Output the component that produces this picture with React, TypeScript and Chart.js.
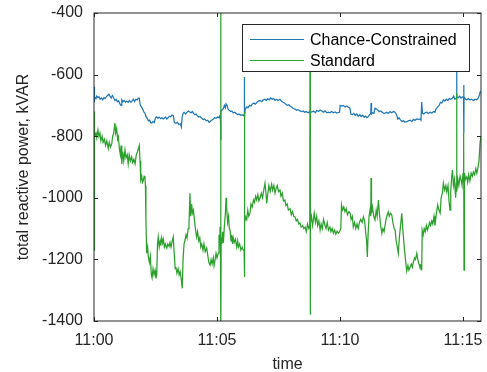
import React, { useEffect, useRef } from "react";
import { Chart, registerables } from "chart.js";
Chart.register(...registerables);

// minutes after 11:00
const ccTime = [0.00,0.01,0.03,0.08,0.11,0.16,0.20,0.25,0.30,0.35,0.40,0.45,0.50,0.55,0.60,0.65,0.70,0.75,0.80,0.85,0.90,0.95,1.00,1.05,1.10,1.13,1.18,1.23,1.28,1.33,1.39,1.44,1.50,1.55,1.60,1.65,1.70,1.76,1.80,1.84,1.88,1.93,1.98,2.03,2.07,2.11,2.16,2.21,2.26,2.31,2.35,2.40,2.45,2.50,2.55,2.60,2.65,2.71,2.76,2.81,2.86,2.91,2.96,3.01,3.07,3.12,3.17,3.22,3.27,3.33,3.39,3.45,3.51,3.55,3.58,3.62,3.66,3.72,3.78,3.84,3.90,3.95,4.00,4.05,4.10,4.15,4.20,4.26,4.32,4.38,4.44,4.50,4.56,4.62,4.68,4.72,4.78,4.84,4.90,4.96,5.02,5.07,5.10,5.14,5.15,5.16,5.20,5.26,5.30,5.34,5.37,5.41,5.45,5.50,5.55,5.60,5.66,5.72,5.78,5.84,5.90,5.96,6.02,6.07,6.10,6.11,6.12,6.15,6.21,6.26,6.32,6.38,6.44,6.50,6.56,6.62,6.68,6.75,6.82,6.88,6.95,7.00,7.06,7.12,7.18,7.24,7.30,7.36,7.42,7.48,7.56,7.62,7.68,7.74,7.80,7.86,7.92,7.97,8.04,8.10,8.17,8.24,8.30,8.37,8.44,8.50,8.56,8.62,8.70,8.78,8.85,8.92,9.00,9.05,9.12,9.19,9.26,9.33,9.39,9.46,9.53,9.59,9.66,9.73,9.80,9.87,9.93,9.98,10.01,10.07,10.13,10.20,10.27,10.34,10.40,10.44,10.50,10.56,10.62,10.68,10.74,10.80,10.86,10.92,10.98,11.04,11.09,11.14,11.20,11.25,11.26,11.28,11.33,11.38,11.42,11.48,11.54,11.60,11.66,11.72,11.78,11.83,11.90,11.96,12.03,12.10,12.17,12.24,12.30,12.35,12.40,12.46,12.52,12.58,12.64,12.71,12.78,12.85,12.92,12.98,13.05,13.12,13.20,13.25,13.29,13.32,13.35,13.40,13.46,13.52,13.59,13.66,13.73,13.80,13.86,13.90,13.97,14.03,14.08,14.14,14.20,14.26,14.32,14.38,14.44,14.50,14.57,14.62,14.67,14.73,14.74,14.75,14.81,14.86,14.92,14.98,15.02,15.03,15.035,15.04,15.10,15.15,15.21,15.28,15.35,15.42,15.49,15.56,15.62,15.67,15.70,15.73];
const ccPower = [-640,-690,-672,-678,-670,-675,-672,-680,-676,-682,-675,-678,-672,-668,-664,-670,-676,-668,-676,-684,-680,-688,-685,-695,-700,-682,-688,-684,-690,-686,-690,-684,-690,-685,-680,-688,-680,-682,-676,-676,-699,-705,-712,-722,-725,-735,-742,-750,-748,-756,-757,-752,-756,-740,-737,-742,-738,-743,-740,-744,-741,-738,-744,-740,-735,-737,-731,-733,-756,-758,-755,-762,-760,-770,-740,-726,-722,-728,-722,-718,-722,-724,-720,-726,-730,-728,-734,-738,-736,-742,-746,-744,-750,-748,-755,-753,-748,-745,-740,-742,-738,-740,-735,-745,-812,-720,-715,-710,-700,-708,-695,-700,-712,-716,-720,-718,-724,-722,-726,-730,-728,-732,-730,-733,-731,-608,-735,-712,-705,-708,-700,-702,-695,-692,-696,-690,-686,-684,-688,-682,-680,-684,-678,-682,-676,-680,-678,-684,-680,-684,-680,-686,-690,-692,-696,-700,-698,-702,-706,-710,-712,-716,-714,-718,-720,-718,-722,-720,-724,-720,-722,-718,-724,-716,-720,-715,-718,-722,-718,-724,-722,-724,-720,-724,-721,-725,-723,-722,-700,-702,-700,-705,-702,-706,-708,-728,-730,-726,-732,-728,-735,-730,-736,-732,-738,-735,-740,-737,-730,-726,-692,-728,-724,-726,-709,-712,-716,-720,-718,-722,-726,-725,-722,-726,-720,-724,-720,-722,-730,-744,-740,-748,-752,-750,-754,-753,-750,-748,-752,-746,-748,-744,-746,-744,-748,-689,-725,-728,-724,-722,-726,-722,-725,-720,-722,-712,-705,-700,-690,-692,-682,-686,-680,-684,-678,-680,-676,-670,-680,-676,-591,-672,-675,-670,-676,-672,-675,-634,-790,-672,-680,-682,-678,-682,-680,-684,-680,-682,-676,-665,-656,-660];

const stdTime = [0.00,0.01,0.03,0.08,0.11,0.16,0.20,0.24,0.28,0.33,0.37,0.42,0.47,0.52,0.58,0.62,0.67,0.72,0.76,0.80,0.85,0.88,0.92,0.96,0.99,1.03,1.07,1.10,1.13,1.17,1.21,1.26,1.30,1.35,1.39,1.43,1.48,1.53,1.57,1.62,1.67,1.72,1.77,1.84,1.87,1.90,1.94,1.97,2.00,2.04,2.07,2.09,2.11,2.14,2.18,2.21,2.25,2.29,2.33,2.36,2.40,2.44,2.48,2.52,2.55,2.58,2.61,2.65,2.69,2.72,2.75,2.79,2.82,2.86,2.90,2.96,3.00,3.05,3.09,3.13,3.18,3.22,3.26,3.30,3.33,3.37,3.42,3.46,3.50,3.54,3.59,3.62,3.66,3.70,3.74,3.78,3.83,3.86,3.90,3.93,3.97,4.00,4.04,4.08,4.12,4.17,4.21,4.26,4.30,4.34,4.38,4.43,4.47,4.52,4.58,4.62,4.67,4.72,4.76,4.80,4.85,4.88,4.92,4.96,5.00,5.05,5.08,5.10,5.12,5.14,5.15,5.16,5.17,5.20,5.23,5.26,5.30,5.34,5.37,5.39,5.43,5.47,5.50,5.53,5.57,5.60,5.63,5.66,5.70,5.75,5.80,5.84,5.87,5.92,5.97,6.02,6.07,6.10,6.11,6.12,6.13,6.17,6.21,6.25,6.29,6.34,6.38,6.43,6.48,6.52,6.57,6.61,6.66,6.70,6.75,6.80,6.85,6.90,6.95,6.99,7.02,7.06,7.11,7.16,7.22,7.26,7.31,7.36,7.40,7.45,7.50,7.56,7.60,7.65,7.70,7.76,7.80,7.85,7.90,7.97,8.02,8.07,8.12,8.17,8.22,8.27,8.32,8.37,8.42,8.48,8.53,8.58,8.63,8.68,8.73,8.77,8.78,8.79,8.80,8.84,8.88,8.91,8.95,9.00,9.05,9.09,9.14,9.19,9.23,9.28,9.33,9.39,9.43,9.48,9.53,9.59,9.63,9.68,9.73,9.78,9.83,9.88,9.93,9.98,10.03,10.06,10.10,10.15,10.20,10.25,10.30,10.36,10.41,10.45,10.50,10.54,10.59,10.64,10.69,10.74,10.79,10.84,10.90,10.95,11.00,11.04,11.08,11.11,11.14,11.18,11.22,11.25,11.26,11.28,11.32,11.37,11.42,11.47,11.51,11.56,11.60,11.65,11.70,11.74,11.79,11.83,11.87,11.92,11.96,12.00,12.05,12.10,12.15,12.20,12.24,12.28,12.33,12.37,12.41,12.46,12.51,12.55,12.61,12.66,12.71,12.76,12.80,12.85,12.90,12.94,12.98,13.03,13.07,13.12,13.16,13.21,13.25,13.29,13.32,13.34,13.38,13.42,13.46,13.51,13.55,13.59,13.64,13.68,13.73,13.77,13.82,13.86,13.91,13.97,14.02,14.07,14.11,14.16,14.20,14.25,14.30,14.34,14.39,14.43,14.47,14.50,14.54,14.57,14.61,14.65,14.70,14.73,14.74,14.75,14.79,14.83,14.88,14.92,14.96,15.00,15.02,15.03,15.04,15.06,15.10,15.15,15.19,15.23,15.28,15.33,15.38,15.42,15.47,15.52,15.56,15.60,15.65,15.69,15.73];
const stdPower = [-1170,-720,-800,-790,-805,-780,-800,-790,-815,-800,-820,-810,-830,-815,-840,-820,-835,-825,-800,-790,-757,-790,-775,-810,-802,-840,-860,-830,-890,-850,-880,-845,-870,-860,-890,-860,-880,-867,-885,-875,-890,-860,-850,-830,-880,-942,-930,-950,-945,-930,-932,-960,-1070,-1180,-1160,-1192,-1210,-1190,-1250,-1260,-1230,-1250,-1235,-1262,-1250,-1150,-1127,-1160,-1140,-1155,-1130,-1147,-1135,-1160,-1150,-1163,-1150,-1158,-1145,-1160,-1140,-1127,-1180,-1230,-1225,-1245,-1230,-1250,-1240,-1260,-1294,-1200,-1150,-1137,-1120,-1130,-1100,-1090,-985,-1060,-1020,-1050,-1040,-1070,-1100,-1127,-1110,-1140,-1130,-1160,-1150,-1170,-1150,-1175,-1163,-1185,-1210,-1218,-1200,-1215,-1195,-1220,-1202,-1180,-1195,-1180,-1120,-1150,-1095,-1180,-350,-1420,-1130,-1150,-1110,-1147,-1090,-1050,-1000,-1030,-1080,-1060,-1100,-1105,-1140,-1120,-1150,-1130,-1145,-1135,-1160,-1140,-1160,-1150,-1170,-1160,-1170,-1170,-721,-1257,-1080,-1062,-1070,-1040,-1060,-1050,-1020,-1030,-1007,-1015,-995,-1007,-990,-1010,-1000,-985,-1000,-975,-953,-985,-1018,-990,-960,-980,-956,-975,-960,-985,-970,-960,-980,-975,-995,-985,-1010,-1007,-1025,-1020,-1040,-1035,-1055,-1045,-1060,-1062,-1075,-1070,-1085,-1082,-1095,-1090,-1100,-1095,-1110,-1085,-1100,-1090,-520,-1380,-1080,-1060,-1090,-1075,-1050,-1080,-1060,-1090,-1075,-1105,-1085,-1100,-1070,-1090,-1100,-1080,-1105,-1095,-1110,-1100,-1115,-1105,-1118,-1108,-1115,-1110,-1100,-1023,-1040,-1030,-1045,-1035,-1055,-1045,-1050,-1070,-1060,-1095,-1080,-1100,-1085,-1100,-1080,-1070,-1080,-1062,-1075,-1110,-1140,-1192,-1120,-1060,-1040,-1060,-936,-1050,-1030,-1060,-1072,-1040,-1060,-1007,-1050,-1090,-1115,-1100,-1110,-1090,-1070,-1055,-1046,-1060,-1050,-1055,-1080,-1100,-1105,-1140,-1160,-1180,-1130,-1090,-1050,-1100,-1160,-1200,-1238,-1220,-1235,-1225,-1215,-1225,-1210,-1195,-1200,-1180,-1200,-1215,-1225,-1220,-1235,-1105,-1120,-1100,-1110,-1090,-1105,-1095,-1080,-1090,-1075,-1085,-1060,-1090,-1055,-1023,-1040,-1050,-1000,-985,-953,-975,-960,-980,-960,-1010,-1040,-980,-930,-910,-960,-940,-1000,-950,-660,-980,-940,-960,-930,-942,-960,-920,-950,-790,-1235,-920,-940,-932,-950,-925,-945,-920,-930,-916,-925,-905,-920,-905,-880,-822,-800];

const xTickValues = [0, 5, 10, 15];
const xTickLabels = ["11:00", "11:05", "11:10", "11:15"];
const yTickValues = [-1400, -1200, -1000, -800, -600, -400];
const seriesNames = ["Chance-Constrained", "Standard"];
const seriesColors = ["#1f77b4", "#2ca02c"];
const xTitle = "time";
const yTitle = "total reactive power, kVAR";

const FONT = '"Liberation Sans", Arial, Helvetica, sans-serif';
const TEXT = "#262626";

const framePlugin = {
  id: "frame",
  afterDatasetsDraw(chart: any) {
    const { ctx, chartArea, scales } = chart;
    const { left, right, top, bottom } = chartArea;
    ctx.save();
    ctx.strokeStyle = TEXT;
    ctx.lineWidth = 1;
    const tl = 4;
    ctx.beginPath();
    for (const v of xTickValues) {
      const px = Math.round(scales.x.getPixelForValue(v)) + 0.5;
      ctx.moveTo(px, bottom);
      ctx.lineTo(px, bottom - tl);
      ctx.moveTo(px, top);
      ctx.lineTo(px, top + tl);
    }
    for (const v of yTickValues) {
      const py = Math.round(scales.y.getPixelForValue(v)) + 0.5;
      ctx.moveTo(left, py);
      ctx.lineTo(left + tl, py);
      ctx.moveTo(right, py);
      ctx.lineTo(right - tl, py);
    }
    ctx.stroke();
    ctx.strokeRect(left, top, right - left, bottom - top);

    // legend inside the axes (north-east)
    const bx = 242.5, by = 24.5, bw = 227, bh = 47;
    ctx.fillStyle = "#ffffff";
    ctx.fillRect(bx, by, bw, bh);
    ctx.strokeStyle = TEXT;
    ctx.strokeRect(bx, by, bw, bh);
    ctx.font = `16px ${FONT}`;
    ctx.textBaseline = "middle";
    ctx.textAlign = "left";
    const rows = [39.5, 60.5];
    seriesNames.forEach((name, i) => {
      ctx.strokeStyle = seriesColors[i];
      ctx.lineWidth = 1;
      ctx.beginPath();
      ctx.moveTo(250, rows[i]);
      ctx.lineTo(304, rows[i]);
      ctx.stroke();
      ctx.fillStyle = "#000000";
      ctx.fillText(name, 310, rows[i] + 1);
    });
    ctx.restore();
  },
};

const noOverflow = (s: any) => {
  s.paddingTop = 0;
  s.paddingBottom = 0;
  s.paddingLeft = 0;
  s.paddingRight = 0;
};

export default function App() {
  const ref = useRef<HTMLCanvasElement | null>(null);
  useEffect(() => {
    if (!ref.current) return;
    const chart = new Chart(ref.current, {
      type: "line",
      data: {
        datasets: [
          {
            label: seriesNames[0],
            data: ccTime.map((t, i) => ({ x: t, y: ccPower[i] })),
            borderColor: seriesColors[0],
            borderWidth: 1.25,
            pointRadius: 0,
            tension: 0,
            order: 2,
            clip: 0,
          },
          {
            label: seriesNames[1],
            data: stdTime.map((t, i) => ({ x: t, y: stdPower[i] })),
            borderColor: seriesColors[1],
            borderWidth: 1.25,
            pointRadius: 0,
            tension: 0,
            order: 1,
            clip: 0,
          },
        ],
      },
      options: {
        animation: false,
        responsive: true,
        maintainAspectRatio: false,
        layout: { padding: { top: 13, right: 6, left: 0, bottom: 0 } },
        plugins: { legend: { display: false }, tooltip: { enabled: false } },
        scales: {
          x: {
            type: "linear",
            min: 0,
            max: 15.73,
            afterFit: (s: any) => {
              s.height = 51;
              noOverflow(s);
            },
            afterBuildTicks: (s: any) => {
              s.ticks = xTickValues.map((v) => ({ value: v }));
            },
            grid: { display: false, drawTicks: false },
            border: { display: false },
            ticks: {
              autoSkip: false,
              maxRotation: 0,
              padding: 10,
              color: TEXT,
              font: { family: FONT, size: 16 },
              callback: (v: any) => xTickLabels[xTickValues.indexOf(Number(v))] ?? "",
            },
            title: {
              display: true,
              text: xTitle,
              color: TEXT,
              font: { family: FONT, size: 16 },
              padding: { top: 0, bottom: -2 },
            },
          },
          y: {
            type: "linear",
            min: -1400,
            max: -400,
            afterFit: (s: any) => {
              s.width = 94;
              noOverflow(s);
            },
            afterBuildTicks: (s: any) => {
              s.ticks = yTickValues.map((v) => ({ value: v }));
            },
            grid: { display: false, drawTicks: false },
            border: { display: false },
            ticks: {
              padding: 11,
              color: TEXT,
              font: { family: FONT, size: 16 },
              callback: (v: any) => String(v),
            },
            title: {
              display: true,
              text: yTitle,
              color: TEXT,
              font: { family: FONT, size: 16 },
              padding: { top: 14, bottom: 0 },
            },
          },
        },
      },
      plugins: [framePlugin],
    });
    return () => chart.destroy();
  }, []);
  return (
    <div style={{ position: "fixed", left: 0, top: 0, width: 487, height: 372, background: "#fff" }}>
      <canvas ref={ref} />
    </div>
  );
}
